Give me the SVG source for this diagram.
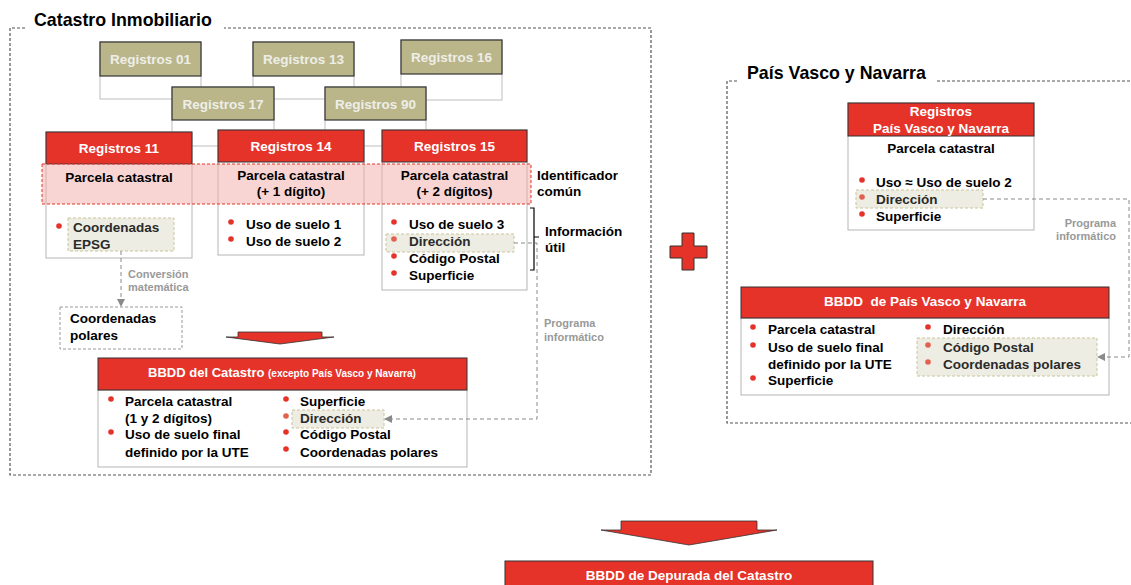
<svg xmlns="http://www.w3.org/2000/svg" width="1131" height="585" viewBox="0 0 1131 585">
<style>
text{font-family:"Liberation Sans",Arial,sans-serif;font-weight:bold;}
.t{font-size:13.5px;fill:#000;}
.th{font-size:13.5px;fill:#2a2a2a;}
.w{font-size:13.5px;fill:#fff;}
.o{font-size:13.5px;fill:#eeeee8;}
.ttl{font-size:17.8px;fill:#000;}
.lbl{font-size:11px;fill:#999;}
.c{text-anchor:middle;}
.red{fill:#e5332a;stroke:#333;stroke-width:1;}
.olv{fill:#bab68a;stroke:#333;stroke-width:1.2;}
.card{fill:#fff;stroke:#b5b5b5;stroke-width:1;}
.ghost{fill:#fff;stroke:#c8c8c8;stroke-width:1.2;}
.cont{fill:none;stroke:#555;stroke-width:1.2;stroke-dasharray:3,2;}
.hl{fill:#eeede3;stroke:#c9c59c;stroke-width:1;stroke-dasharray:3,2;}
.dc{fill:none;stroke:#8a8a8a;stroke-width:1;stroke-dasharray:4,3;}
.bul{fill:#e5332a;}
.bulh{fill:#e2604f;}
</style>
<defs>
<marker id="ah" viewBox="0 0 8 8" refX="7" refY="4" markerWidth="8" markerHeight="8" orient="auto" markerUnits="userSpaceOnUse"><path d="M0,0 L8,4 L0,8 z" fill="#8a8a8a"/></marker>
</defs>

<g id="containers">
<path class="cont" d="M25,28 H10 V475 H651 V28 H224"/>
<text class="ttl" x="34" y="26">Catastro Inmobiliario</text>
<path class="cont" d="M737,81 H727 V423 H1140 M937,81 H1140"/>
<text class="ttl" x="747" y="79">País Vasco y Navarra</text>
</g>

<g id="reg01"><rect class="ghost" x="100" y="42" width="101" height="57"/><rect class="olv" x="100" y="42" width="101" height="34"/><text class="o c" x="150.5" y="64">Registros 01</text></g>
<g id="reg13"><rect class="ghost" x="253" y="42" width="101" height="57"/><rect class="olv" x="253" y="42" width="101" height="34"/><text class="o c" x="303.5" y="64">Registros 13</text></g>
<g id="reg16"><rect class="ghost" x="401" y="40" width="101" height="60"/><rect class="olv" x="401" y="40" width="101" height="34"/><text class="o c" x="451.5" y="62">Registros 16</text></g>
<g id="reg17"><rect class="ghost" x="172" y="87" width="102" height="59"/><rect class="olv" x="172" y="87" width="102" height="33"/><text class="o c" x="223" y="109">Registros 17</text></g>
<g id="reg90"><rect class="ghost" x="325" y="87" width="101" height="59"/><rect class="olv" x="325" y="87" width="101" height="33"/><text class="o c" x="375.5" y="109">Registros 90</text></g>

<g id="reg11">
<rect class="card" x="46" y="132" width="146" height="126"/>
<rect class="red" x="46" y="132" width="146" height="32"/>
<text class="w c" x="119" y="153">Registros 11</text>
<circle class="bul" cx="59" cy="226" r="2.8"/>
<rect class="hl" x="68" y="218" width="106" height="33"/>
<text class="th" x="73" y="232">Coordenadas</text>
<text class="th" x="73" y="249">EPSG</text>
</g>
<g id="reg14">
<rect class="card" x="218" y="130" width="146" height="125"/>
<rect class="red" x="218" y="130" width="146" height="32"/>
<text class="w c" x="291" y="151">Registros 14</text>
<circle class="bul" cx="231" cy="222" r="2.8"/>
<circle class="bul" cx="231" cy="239" r="2.8"/>
<text class="t" x="246" y="229">Uso de suelo 1</text>
<text class="t" x="246" y="246">Uso de suelo 2</text>
</g>
<g id="reg15">
<rect class="card" x="382" y="130" width="145" height="160"/>
<rect class="red" x="382" y="130" width="145" height="32"/>
<text class="w c" x="454.5" y="151">Registros 15</text>
<rect class="hl" x="386" y="234" width="128" height="18"/>
<circle class="bul" cx="394" cy="222" r="2.8"/>
<circle class="bulh" cx="394" cy="239" r="2.8"/>
<circle class="bul" cx="394" cy="256" r="2.8"/>
<circle class="bul" cx="394" cy="273" r="2.8"/>
<text class="t" x="409" y="229">Uso de suelo 3</text>
<text class="th" x="409" y="246">Dirección</text>
<text class="t" x="409" y="263">Código Postal</text>
<text class="t" x="409" y="280">Superficie</text>
</g>

<g id="identificador">
<rect x="42" y="164" width="489" height="40" fill="#f2aba7" fill-opacity="0.5" stroke="#e5332a" stroke-width="1" stroke-dasharray="3,2"/>
<text class="t c" x="119" y="182">Parcela catastral</text>
<text class="t c" x="291" y="180">Parcela catastral</text>
<text class="t c" x="291" y="196">(+ 1 dígito)</text>
<text class="t c" x="454.5" y="180">Parcela catastral</text>
<text class="t c" x="454.5" y="196">(+ 2 dígitos)</text>
<text class="t" x="537" y="180">Identificador</text>
<text class="t" x="537" y="196">común</text>
</g>

<g id="info-util">
<path d="M530,208 H534 V270 H530 M534,237 H539" fill="none" stroke="#000" stroke-width="1.2"/>
<text class="t" x="545" y="236">Información</text>
<text class="t" x="545" y="252">útil</text>
</g>

<g id="coord-polares">
<rect x="60" y="307" width="122" height="42" fill="none" stroke="#999" stroke-width="1" stroke-dasharray="3,2"/>
<text class="t" x="70" y="323">Coordenadas</text>
<text class="t" x="70" y="340">polares</text>
</g>

<g id="arrow-small">
<polygon points="238,332 322,332 322,337 334,337 280,344 226,337 238,337" fill="#e5332a" stroke="#333" stroke-width="0.8"/>
</g>

<g id="bbdd-catastro">
<rect class="card" x="98" y="390" width="369" height="77"/>
<rect class="red" x="98" y="358" width="369" height="32"/>
<text class="w c" x="282" y="377" style="font-size:13px">BBDD del Catastro <tspan style="font-size:10px">(excepto País Vasco y Navarra)</tspan></text>
<circle class="bul" cx="111" cy="399" r="2.8"/>
<circle class="bul" cx="111" cy="432" r="2.8"/>
<text class="t" x="125" y="406">Parcela catastral</text>
<text class="t" x="125" y="423">(1 y 2 dígitos)</text>
<text class="t" x="125" y="439">Uso de suelo final</text>
<text class="t" x="125" y="457">definido por la UTE</text>
<rect class="hl" x="292" y="410" width="92" height="18"/>
<circle class="bul" cx="286" cy="399" r="2.8"/>
<circle class="bulh" cx="286" cy="416" r="2.8"/>
<circle class="bul" cx="286" cy="432" r="2.8"/>
<circle class="bul" cx="286" cy="449" r="2.8"/>
<text class="t" x="300" y="406">Superficie</text>
<text class="th" x="300" y="423">Dirección</text>
<text class="t" x="300" y="439">Código Postal</text>
<text class="t" x="300" y="457">Coordenadas polares</text>
</g>

<g id="plus">
<polygon points="682,233 694,233 694,246 707,246 707,258 694,258 694,270 682,270 682,258 670,258 670,246 682,246" fill="#e5332a" stroke="#333" stroke-width="1"/>
</g>

<g id="reg-pv">
<rect class="card" x="848" y="103" width="186" height="127"/>
<rect class="red" x="848" y="103" width="186" height="33"/>
<text class="w c" x="941" y="116">Registros</text>
<text class="w c" x="941" y="133">País Vasco y Navarra</text>
<text class="t c" x="941" y="153">Parcela catastral</text>
<rect class="hl" x="856" y="190" width="127" height="18"/>
<circle class="bul" cx="862" cy="180" r="2.8"/>
<circle class="bulh" cx="862" cy="197" r="2.8"/>
<circle class="bul" cx="862" cy="214" r="2.8"/>
<text class="t" x="876" y="187">Uso ≈ Uso de suelo 2</text>
<text class="th" x="876" y="204">Dirección</text>
<text class="t" x="876" y="221">Superficie</text>
</g>

<g id="bbdd-pv">
<rect class="card" x="741" y="318" width="368" height="77"/>
<rect class="red" x="741" y="287" width="368" height="31"/>
<text class="w c" x="925" y="306" xml:space="preserve">BBDD  de País Vasco y Navarra</text>
<circle class="bul" cx="753" cy="327" r="2.8"/>
<circle class="bul" cx="753" cy="345" r="2.8"/>
<circle class="bul" cx="753" cy="378" r="2.8"/>
<text class="t" x="768" y="334">Parcela catastral</text>
<text class="t" x="768" y="352">Uso de suelo final</text>
<text class="t" x="768" y="369">definido por la UTE</text>
<text class="t" x="768" y="385">Superficie</text>
<rect class="hl" x="917" y="338" width="180" height="38"/>
<circle class="bul" cx="928" cy="327" r="2.8"/>
<circle class="bulh" cx="928" cy="345" r="2.8"/>
<circle class="bulh" cx="928" cy="362" r="2.8"/>
<text class="t" x="943" y="334">Dirección</text>
<text class="th" x="943" y="352">Código Postal</text>
<text class="th" x="943" y="369">Coordenadas polares</text>
</g>

<g id="arrow-big">
<polygon points="621,521 757,521 757,530 777,530 689,545 601,530 621,530" fill="#e5332a" stroke="#333" stroke-width="0.8"/>
</g>

<g id="bbdd-depurada">
<rect class="red" x="505" y="561" width="368" height="32"/>
<text class="w c" x="689" y="580">BBDD de Depurada del Catastro</text>
</g>

<g id="connectors">
<path class="dc" d="M121,251 V306" marker-end="url(#ah)"/>
<text class="lbl" x="128" y="278">Conversión</text>
<text class="lbl" x="128" y="291">matemática</text>
<path class="dc" d="M514,243 H537 V419 H385" marker-end="url(#ah)"/>
<text class="lbl" x="544" y="327">Programa</text>
<text class="lbl" x="544" y="341">informático</text>
<path class="dc" d="M983,199 H1129 V357 H1098" marker-end="url(#ah)"/>
<text class="lbl" x="1116" y="227" text-anchor="end">Programa</text>
<text class="lbl" x="1116" y="240" text-anchor="end">informático</text>
</g>
</svg>
